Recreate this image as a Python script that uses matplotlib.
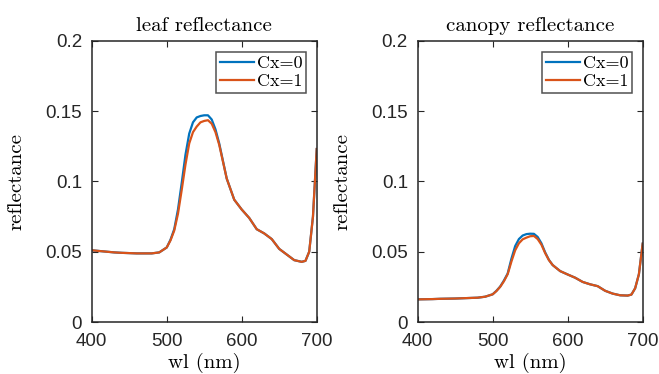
import numpy as np
import matplotlib
matplotlib.use('Agg')
import matplotlib.pyplot as plt
from matplotlib.ticker import FormatStrFormatter

# wavelengths (nm)
wl = [400, 410, 420, 430, 440, 450, 460, 470, 480, 490, 500, 505, 510, 515,
      520, 525, 530, 535, 540, 545, 550, 555, 560, 565, 570, 575, 580, 590,
      600, 610, 620, 630, 640, 650, 660, 670, 680, 685, 690, 695, 700]

# leaf reflectance
leaf_cx1 = [0.0510, 0.0505, 0.0500, 0.0495, 0.0492, 0.0490, 0.0488, 0.0488,
            0.0488, 0.0495, 0.0530, 0.0580, 0.0650, 0.0770, 0.0940, 0.1120,
            0.1270, 0.1350, 0.1390, 0.1420, 0.1430, 0.1435, 0.1410, 0.1350,
            0.1260, 0.1140, 0.1020, 0.0870, 0.0800, 0.0740, 0.0660, 0.0630,
            0.0590, 0.0520, 0.0480, 0.0440, 0.0428, 0.0435, 0.0500, 0.0750,
            0.1230]
leaf_cx0 = [0.0510, 0.0505, 0.0500, 0.0495, 0.0492, 0.0490, 0.0488, 0.0488,
            0.0488, 0.0495, 0.0530, 0.0585, 0.0660, 0.0800, 0.0990, 0.1190,
            0.1340, 0.1420, 0.1455, 0.1465, 0.1470, 0.1470, 0.1440, 0.1370,
            0.1270, 0.1145, 0.1020, 0.0870, 0.0800, 0.0740, 0.0660, 0.0630,
            0.0590, 0.0520, 0.0480, 0.0440, 0.0428, 0.0435, 0.0500, 0.0750,
            0.1230]

# canopy reflectance
canopy_cx1 = [0.0161, 0.0162, 0.0163, 0.0165, 0.0166, 0.0167, 0.0169, 0.0171,
              0.0173, 0.0180, 0.0197, 0.0220, 0.0250, 0.0290, 0.0340, 0.0430,
              0.0510, 0.0560, 0.0588, 0.0600, 0.0610, 0.0612, 0.0590, 0.0550,
              0.0490, 0.0440, 0.0405, 0.0362, 0.0338, 0.0315, 0.0285, 0.0268,
              0.0255, 0.0222, 0.0202, 0.0190, 0.0188, 0.0195, 0.0240, 0.0340,
              0.0557]
canopy_cx0 = [0.0161, 0.0162, 0.0163, 0.0165, 0.0166, 0.0167, 0.0169, 0.0171,
              0.0173, 0.0180, 0.0197, 0.0222, 0.0252, 0.0295, 0.0345, 0.0450,
              0.0540, 0.0590, 0.0615, 0.0625, 0.0628, 0.0627, 0.0605, 0.0560,
              0.0495, 0.0442, 0.0405, 0.0362, 0.0338, 0.0315, 0.0285, 0.0268,
              0.0255, 0.0222, 0.0202, 0.0190, 0.0188, 0.0195, 0.0240, 0.0340,
              0.0557]

xticks = [400, 500, 600, 700]
yticks = [0, 0.05, 0.1, 0.15, 0.2]

blue = '#0072BD'
orange = '#D95319'
axcol = '#262626'
serif = 'cmr10'
tickfont = 'Liberation Sans'

fig = plt.figure(figsize=(6.59, 3.74), dpi=100)

panels = [
    (0.1392, 'leaf reflectance', leaf_cx0, leaf_cx1),
    (0.6338, 'canopy reflectance', canopy_cx0, canopy_cx1),
]

for left, title, cx0, cx1 in panels:
    ax = fig.add_axes([left, 0.139, 0.3414, 0.752])
    ax.plot(wl, cx0, color=blue, lw=1.6, label='Cx=0')
    ax.plot(wl, cx1, color=orange, lw=1.6, label='Cx=1')
    ax.set_xlim(400, 700)
    ax.set_ylim(0, 0.2)
    ax.set_xticks(xticks)
    ax.set_yticks(yticks)
    ax.yaxis.set_major_formatter(FormatStrFormatter('%g'))
    ax.tick_params(direction='in', top=True, right=True, length=4,
                   width=0.8, colors=axcol, labelsize=13.5)
    ax.tick_params(axis='x', pad=8)
    ax.tick_params(axis='y', pad=7)
    for lab in ax.get_xticklabels() + ax.get_yticklabels():
        lab.set_fontfamily(tickfont)
    for sp in ax.spines.values():
        sp.set_color(axcol)
        sp.set_linewidth(1.1)
    ax.set_title(title, fontfamily=serif, fontsize=15, color='black', pad=7)
    ax.set_xlabel('wl (nm)', fontfamily=serif, fontsize=15, labelpad=2)
    ax.set_ylabel('reflectance', fontfamily=serif, fontsize=15, labelpad=14)
    leg = ax.legend(loc='upper right', prop={'family': serif, 'size': 13},
                    frameon=True, fancybox=False, handlelength=1.9,
                    handletextpad=0.15, borderpad=0.2, labelspacing=0.15,
                    borderaxespad=0.6)
    leg.get_frame().set_edgecolor(axcol)
    leg.get_frame().set_linewidth(1.1)

fig.savefig('out.png', dpi=100)
